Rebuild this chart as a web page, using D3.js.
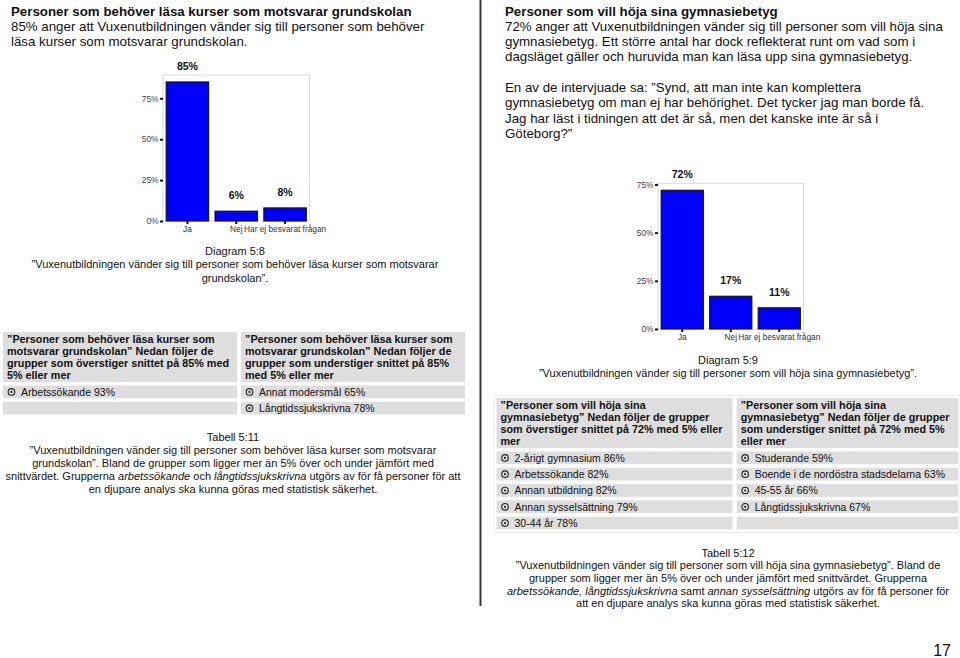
<!DOCTYPE html>
<html>
<head>
<meta charset="utf-8">
<script src="https://cdn.jsdelivr.net/npm/d3@7"></script>
<style>
  html, body { margin: 0; padding: 0; background: #fff; }
  svg { display: block; font-family: "Liberation Sans", Arial, sans-serif; }
</style>
</head>
<body>
<svg id="chart" width="960" height="658"></svg>
<script>
// ---------- data ----------
const categories = ["Ja", "Nej", "Har ej besvarat frågan"];
const values58 = [85, 6, 8];
const values59 = [72, 17, 11];
const yTicks = [0, 25, 50, 75];

const leftHeading = [
  "Personer som behöver läsa kurser som motsvarar grundskolan",
  "85% anger att Vuxenutbildningen vänder sig till personer som behöver",
  "läsa kurser som motsvarar grundskolan."
];
const rightHeading = [
  "Personer som vill höja sina gymnasiebetyg",
  "72% anger att Vuxenutbildningen vänder sig till personer som vill höja sina",
  "gymnasiebetyg. Ett större antal har dock reflekterat runt om vad som i",
  "dagsläget gäller och huruvida man kan läsa upp sina gymnasiebetyg."
];
const rightQuote = [
  "En av de intervjuade sa: ”Synd, att man inte kan komplettera",
  "gymnasiebetyg om man ej har behörighet. Det tycker jag man borde få.",
  "Jag har läst i tidningen att det är så, men det kanske inte är så i",
  "Göteborg?”"
];
const caption58 = [
  "Diagram 5:8",
  "”Vuxenutbildningen vänder sig till personer som behöver läsa kurser som motsvarar",
  "grundskolan”."
];
const caption59 = [
  "Diagram 5:9",
  "”Vuxenutbildningen vänder sig till personer som vill höja sina gymnasiebetyg”."
];

const t511OverHead = ["”Personer som behöver läsa kurser som", "motsvarar grundskolan” Nedan följer de", "grupper som överstiger snittet på 85% med", "5% eller mer"];
const t511UnderHead = ["”Personer som behöver läsa kurser som", "motsvarar grundskolan” Nedan följer de", "grupper som understiger snittet på 85%", "med 5% eller mer"];
const t511Over = ["Arbetssökande 93%", ""];
const t511Under = ["Annat modersmål 65%", "Långtidssjukskrivna 78%"];

const t512OverHead = ["”Personer som vill höja sina", "gymnasiebetyg” Nedan följer de grupper", "som överstiger snittet på 72% med 5% eller", "mer"];
const t512UnderHead = ["”Personer som vill höja sina", "gymnasiebetyg” Nedan följer de grupper", "som understiger snittet på 72% med 5%", "eller mer"];
const t512Over = ["2-årigt gymnasium 86%", "Arbetssökande 82%", "Annan utbildning 82%", "Annan sysselsättning 79%", "30-44 år 78%"];
const t512Under = ["Studerande 59%", "Boende i de nordöstra stadsdelarna 63%", "45-55 år 66%", "Långtidssjukskrivna 67%", ""];

// caption lines with italic segments: [text, italic]
const tabell511 = [
  [["Tabell 5:11", false]],
  [["”Vuxenutbildningen vänder sig till personer som behöver läsa kurser som motsvarar", false]],
  [["grundskolan”. Bland de grupper som ligger mer än 5% över och under jämfört med", false]],
  [["snittvärdet. Grupperna ", false], ["arbetssökande", true], [" och ", false], ["långtidssjukskrivna", true], [" utgörs av för få personer för att", false]],
  [["en djupare analys ska kunna göras med statistisk säkerhet.", false]]
];
const tabell512 = [
  [["Tabell 5:12", false]],
  [["”Vuxenutbildningen vänder sig till personer som vill höja sina gymnasiebetyg”. Bland de", false]],
  [["grupper som ligger mer än 5% över och under jämfört med snittvärdet. Grupperna", false]],
  [["arbetssökande, långtidssjukskrivna", true], [" samt ", false], ["annan sysselsättning", true], [" utgörs av för få personer för", false]],
  [["att en djupare analys ska kunna göras med statistisk säkerhet.", false]]
];
const pageNumber = "17";

// ---------- drawing ----------
const svg = d3.select("#chart");

// divider
svg.append("line").attr("x1", 480.5).attr("x2", 480.5).attr("y1", 0).attr("y2", 606)
  .attr("stroke", "#3a3a3a").attr("stroke-width", 2);

function textBlock(lines, x, y0, pitch, opts) {
  const g = svg.append("g");
  lines.forEach((ln, i) => {
    g.append("text").attr("x", x).attr("y", y0 + i * pitch)
      .attr("font-size", opts.size).attr("font-weight", (opts.boldFirst && i === 0) || opts.bold ? "bold" : "normal")
      .attr("text-anchor", opts.anchor || "start").attr("fill", opts.fill || "#111")
      .text(ln);
  });
}

textBlock(leftHeading, 11, 15.5, 15.3, { size: 13.3, boldFirst: true });
textBlock(rightHeading, 505, 15.5, 15.3, { size: 13.3, boldFirst: true });
textBlock(rightQuote, 505, 92, 15.3, { size: 13.3 });

function barChart(values, left, right, top, bottom) {
  const x = d3.scaleBand().domain(categories).range([left, right]).paddingInner(0.13).paddingOuter(0.065);
  const y = d3.scaleLinear().domain([0, d3.max(values) * 1.05]).range([bottom, top]);
  const g = svg.append("g");
  g.append("rect").attr("x", left).attr("y", top).attr("width", right - left).attr("height", bottom - top)
    .attr("fill", "none").attr("stroke", "#dadada").attr("stroke-width", 1);
  g.selectAll("rect.bar").data(values).join("rect").attr("class", "bar")
    .attr("x", (d, i) => x(categories[i]))
    .attr("y", d => y(d))
    .attr("width", x.bandwidth())
    .attr("height", d => y(0) - y(d))
    .attr("fill", "#0000ff").attr("stroke", "#111").attr("stroke-width", 1.1);
  g.selectAll("text.val").data(values).join("text").attr("class", "val")
    .attr("x", (d, i) => x(categories[i]) + x.bandwidth() / 2)
    .attr("y", d => y(d) - 12)
    .attr("text-anchor", "middle").attr("font-size", 10.5).attr("font-weight", "bold").attr("fill", "#111")
    .text(d => d + "%");
  // y axis
  const ya = g.append("g").attr("transform", `translate(${left},0)`)
    .call(d3.axisLeft(y).tickValues(yTicks).tickSize(3).tickPadding(1.5).tickFormat(d => d + "%"));
  ya.select(".domain").remove();
  ya.selectAll(".tick line").attr("stroke", "#111").attr("stroke-width", 2);
  ya.selectAll(".tick text").attr("font-size", 8.4).attr("fill", "#444").attr("font-family", "Liberation Sans, Arial, sans-serif");
  // x axis
  const xa = g.append("g").attr("transform", `translate(0,${bottom})`)
    .call(d3.axisBottom(x).tickSize(3).tickPadding(2));
  xa.select(".domain").remove();
  xa.selectAll(".tick line").attr("stroke", "#111").attr("stroke-width", 2);
  xa.selectAll(".tick text").attr("font-size", 8.3).attr("fill", "#333").attr("font-family", "Liberation Sans, Arial, sans-serif");
}

barChart(values58, 163, 309.5, 75, 221);
barChart(values59, 658, 803.5, 183.3, 329);

textBlock(caption58, 235, 254.5, 13.5, { size: 11, anchor: "middle" });
textBlock(caption59, 728, 364, 12.8, { size: 11, anchor: "middle" });

function table(x, w, top, headH, head, rows) {
  const g = svg.append("g");
  g.append("rect").attr("x", x).attr("y", top).attr("width", w).attr("height", headH).attr("fill", "#dedede");
  head.forEach((ln, i) => {
    g.append("text").attr("x", x + 4).attr("y", top + 11 + i * 11.9)
      .attr("font-size", 10.8).attr("font-weight", "bold").attr("fill", "#111").text(ln);
  });
  const rowTop = top + headH + 3.5;
  rows.forEach((r, i) => {
    const ry = rowTop + i * 16.3;
    g.append("rect").attr("x", x).attr("y", ry).attr("width", w).attr("height", 12.7).attr("fill", "#dedede");
    if (r) {
      g.append("circle").attr("cx", x + 8.5).attr("cy", ry + 6.4).attr("r", 3.3)
        .attr("fill", "none").attr("stroke", "#222").attr("stroke-width", 1.1);
      g.append("circle").attr("cx", x + 8.5).attr("cy", ry + 6.4).attr("r", 1.1).attr("fill", "#222");
      g.append("text").attr("x", x + 18).attr("y", ry + 10.2).attr("font-size", 10.5).attr("fill", "#111").text(r);
    }
  });
}

table(3, 234, 332, 50, t511OverHead, t511Over);
table(241, 224, 332, 50, t511UnderHead, t511Under);
table(496.5, 236, 398, 50, t512OverHead, t512Over);
table(736.7, 221.3, 398, 50, t512UnderHead, t512Under);
svg.append("rect").attr("x", 494).attr("y", 395.5).attr("width", 465).attr("height", 137)
  .attr("fill", "none").attr("stroke", "#ececec").attr("stroke-width", 1);

function richBlock(lines, cx, y0, pitch, size) {
  lines.forEach((segs, i) => {
    const t = svg.append("text").attr("x", cx).attr("y", y0 + i * pitch).attr("text-anchor", "middle")
      .attr("font-size", size).attr("fill", "#111");
    segs.forEach(([s, it]) => {
      t.append("tspan").attr("font-style", it ? "italic" : "normal").text(s);
    });
  });
}
richBlock(tabell511, 233, 441, 13, 11);
richBlock(tabell512, 728, 556.5, 12.7, 11);

svg.append("text").attr("x", 951).attr("y", 656).attr("text-anchor", "end").attr("font-size", 16).attr("fill", "#111").text(pageNumber);
</script>
</body>
</html>
